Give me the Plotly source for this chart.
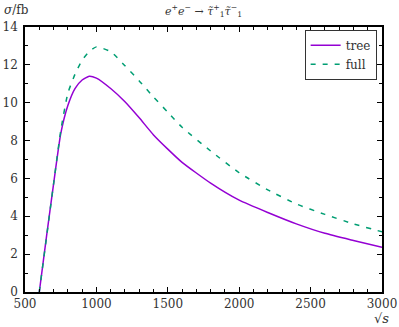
import plotly.graph_objects as go

# sqrt(s) in GeV
sqrt_s = [600, 650, 700, 750, 800, 850, 900, 950, 1000, 1100, 1200, 1300, 1400,
          1500, 1600, 1800, 2000, 2200, 2400, 2600, 2800, 3000]
# cross sections in fb
sigma_tree = [0.0, 2.9, 5.7, 8.35, 9.85, 10.75, 11.2, 11.4, 11.3, 10.75, 10.05, 9.2,
              8.3, 7.55, 6.85, 5.75, 4.85, 4.2, 3.6, 3.1, 2.72, 2.36]
sigma_full = [0.0, 2.85, 5.7, 8.5, 10.5, 11.5, 12.25, 12.7, 12.95, 12.7, 11.95, 11.15,
              10.3, 9.5, 8.7, 7.45, 6.3, 5.4, 4.65, 4.1, 3.6, 3.18]

font = "DejaVu Serif"
txt = "#333"

fig = go.Figure()
fig.add_trace(go.Scatter(x=sqrt_s, y=sigma_tree, mode="lines", name="tree",
                         line=dict(color="#9400d3", width=1.5, shape="spline", smoothing=0.5)))
fig.add_trace(go.Scatter(x=sqrt_s, y=sigma_full, mode="lines", name="full",
                         line=dict(color="#009e73", width=1.5, dash="5px,7px",
                                   shape="spline", smoothing=0.5)))

axis_common = dict(showgrid=False, zeroline=False, showline=True, linecolor="black",
                   linewidth=1.5, mirror="allticks", ticks="inside", ticklen=5,
                   tickcolor="black", tickwidth=1, automargin=False,
                   tickfont=dict(family=font, size=12, color=txt))

fig.update_xaxes(range=[500, 3000], dtick=500, tick0=500, ticklabelstandoff=0,
                 minor=dict(dtick=100, ticks="inside", ticklen=3, tickcolor="black"),
                 **axis_common)
fig.update_yaxes(range=[0, 14], dtick=2, tick0=0, ticklabelstandoff=3,
                 minor=dict(dtick=1, ticks="inside", ticklen=3, tickcolor="black"),
                 **axis_common)

fig.update_layout(
    width=399, height=327,
    margin=dict(l=25, r=17, t=27, b=35),
    plot_bgcolor="white", paper_bgcolor="white",
    font=dict(family=font, color=txt),
    showlegend=True,
    legend=dict(x=0.985, y=0.99, xanchor="right", yanchor="top",
                bordercolor=txt, borderwidth=1, bgcolor="white",
                font=dict(family=font, size=12, color=txt),
                tracegroupgap=0, itemwidth=30),
    annotations=[
        dict(text="<i>σ</i>/fb", xref="paper", yref="paper", x=-0.065, y=1.0,
             xanchor="left", yanchor="bottom", yshift=8, showarrow=False,
             font=dict(family=font, size=12, color=txt)),
        dict(text="<i>e</i><sup>+</sup><i>e</i><sup>−</sup> → <i>τ̃</i><sup>+</sup><sub>1</sub><i>τ̃</i><sup>−</sup><sub>1</sub>",
             xref="paper", yref="paper", x=0.5, y=1.0, xanchor="center",
             yanchor="bottom", yshift=6, showarrow=False,
             font=dict(family=font, size=11, color=txt)),
        dict(text="√<i>s</i>",
             xref="paper", yref="paper", x=1.025, y=-0.065,
             xanchor="right", yanchor="top", showarrow=False,
             font=dict(family=font, size=13, color=txt)),
    ],
)

fig.write_html("out.html", config=dict(displayModeBar=False),
               post_script="document.body.style.margin='0';")
